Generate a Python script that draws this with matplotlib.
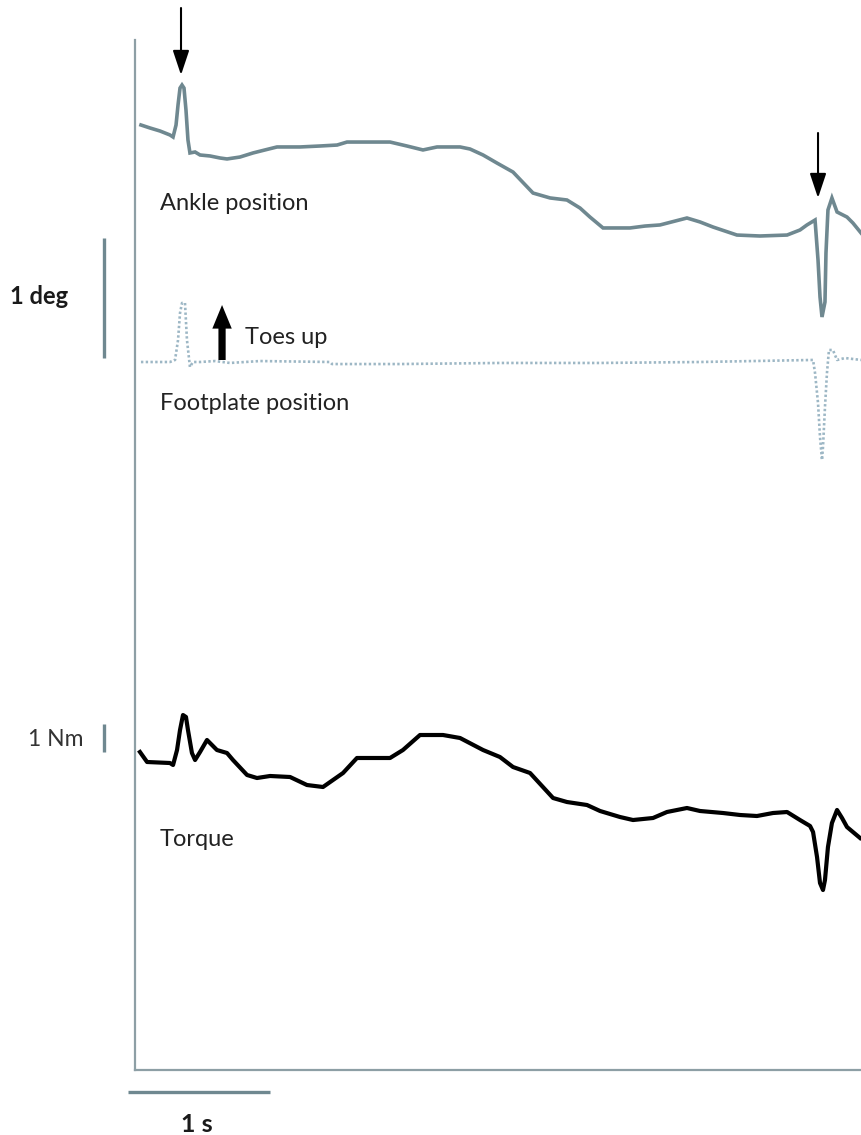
import matplotlib
matplotlib.use("Agg")
import matplotlib.pyplot as plt
import numpy as np

plt.rcParams["font.family"] = ["Lato", "DejaVu Sans"]

# ---- recorded traces (time in s) ----
ankle_t = [0.042, 0.106, 0.176, 0.246, 0.268, 0.289, 0.303, 0.317, 0.331, 0.345,
           0.359, 0.373, 0.387, 0.423, 0.458, 0.528, 0.599, 0.648, 0.739, 0.831,
           0.915, 1.0, 1.162, 1.303, 1.423, 1.493, 1.655, 1.796, 1.915, 2.028,
           2.127, 2.289, 2.359, 2.451, 2.549, 2.662, 2.803, 2.923, 3.042, 3.134,
           3.204, 3.296, 3.486, 3.592, 3.697, 3.887, 3.979, 4.070, 4.239, 4.401,
           4.592, 4.683, 4.732, 4.789, 4.810, 4.824, 4.838, 4.859, 4.866, 4.880,
           4.908, 4.944, 5.014, 5.056, 5.113]
ankle_deg = [0.0, -0.025, -0.05, -0.083, -0.1, 0.0, 0.167, 0.308, 0.333, 0.308,
             0.125, -0.125, -0.233, -0.225, -0.25, -0.258, -0.275, -0.283, -0.267, -0.233,
             -0.208, -0.183, -0.183, -0.175, -0.167, -0.142, -0.142, -0.142, -0.175, -0.208,
             -0.183, -0.183, -0.2, -0.25, -0.317, -0.392, -0.567, -0.608, -0.625, -0.692,
             -0.767, -0.858, -0.858, -0.842, -0.833, -0.775, -0.808, -0.85, -0.917, -0.925,
             -0.917, -0.875, -0.833, -0.792, -1.125, -1.433, -1.6, -1.475, -1.067, -0.708,
             -0.608, -0.725, -0.767, -0.817, -0.9]

foot_t = [0.042, 0.246, 0.282, 0.303, 0.317, 0.331, 0.352, 0.366, 0.387, 0.408,
          0.458, 0.563, 0.669, 0.880, 1.373, 1.387, 1.866, 2.570, 3.275, 3.979,
          4.775, 4.789, 4.810, 4.824, 4.838, 4.845, 4.859, 4.873, 4.887, 4.915,
          4.944, 5.000, 5.113]
foot_deg = [0.0, 0.0, 0.017, 0.183, 0.408, 0.492, 0.492, 0.183, -0.042, 0.0,
            0.0, 0.008, -0.008, 0.008, 0.0, -0.017, -0.017, -0.008, -0.008, 0.0,
            0.017, -0.092, -0.342, -0.625, -0.817, -0.708, -0.375, -0.092, 0.1, 0.1,
            0.017, 0.033, 0.017]

torque_t = [0.035, 0.085, 0.246, 0.268, 0.296, 0.317, 0.338, 0.359, 0.373, 0.401,
            0.423, 0.458, 0.507, 0.577, 0.648, 0.690, 0.789, 0.859, 0.951, 1.092,
            1.211, 1.324, 1.465, 1.563, 1.796, 1.887, 2.007, 2.169, 2.289, 2.451,
            2.570, 2.662, 2.782, 2.944, 3.042, 3.183, 3.275, 3.415, 3.507, 3.648,
            3.746, 3.887, 3.979, 4.141, 4.261, 4.380, 4.493, 4.592, 4.683, 4.754,
            4.775, 4.803, 4.824, 4.845, 4.859, 4.880, 4.908, 4.944, 4.979, 5.014,
            5.106]
torque_nm = [0.0, -0.357, -0.393, -0.464, 0.071, 0.786, 1.321, 1.25, 0.786, -0.036,
             -0.286, 0.0, 0.429, 0.071, -0.036, -0.286, -0.821, -0.929, -0.857, -0.893,
             -1.179, -1.25, -0.75, -0.214, -0.214, 0.071, 0.607, 0.607, 0.5, 0.071,
             -0.179, -0.536, -0.75, -1.643, -1.786, -1.893, -2.107, -2.321, -2.429, -2.357,
             -2.143, -2.0, -2.107, -2.179, -2.25, -2.286, -2.179, -2.143, -2.429, -2.643,
             -2.857, -3.75, -4.679, -4.929, -4.571, -3.393, -2.536, -2.071, -2.357, -2.679,
             -3.071]

# perturbation onsets marked by arrows (s)
onset_t = [0.324, 4.810]

# ---- display scaling: vertical units per deg / per Nm, trace offsets ----
DEG = 120.0
NM = 28.0
ANKLE_OFF = 945.0
FOOT_OFF = 708.0
TORQUE_OFF = 318.0

GREY = "#6f8890"
SPINE = "#8d9fa5"
DOTS = "#9db7c5"

fig = plt.figure(figsize=(8.61, 11.35), dpi=100)
ax = fig.add_axes([135 / 861, 65 / 1135, 726 / 861, 1070 / 1135])
ax.set_xlim(0, 726 / 142)
ax.set_ylim(0, 1070)
for s in ("top", "right"):
    ax.spines[s].set_visible(False)
for s in ("left", "bottom"):
    ax.spines[s].set_color(SPINE)
    ax.spines[s].set_linewidth(1.6)
ax.spines["left"].set_bounds(0, 1030)
ax.set_xticks([])
ax.set_yticks([])

ax.plot(ankle_t, ANKLE_OFF + np.array(ankle_deg) * DEG, color=GREY, lw=2.6,
        solid_joinstyle="miter", clip_on=False)
ax.plot(foot_t, FOOT_OFF + np.array(foot_deg) * DEG, color=DOTS, lw=1.9,
        linestyle=(0, (0.9, 0.9)), clip_on=False)
ax.plot(torque_t, TORQUE_OFF + np.array(torque_nm) * NM, color="black", lw=3.0,
        clip_on=False)

# onset arrows
arrow_tops = [1062, 937]
arrow_tips = [995, 872]
for t, y0, y1 in zip(onset_t, arrow_tops, arrow_tips):
    ax.annotate("", xy=(t, y1), xytext=(t, y0), annotation_clip=False,
                arrowprops=dict(arrowstyle="-|>,head_length=0.75,head_width=0.25",
                                mutation_scale=20, color="black", lw=1.5,
                                shrinkA=0, shrinkB=0))

# direction of footplate rotation
ax.annotate("", xy=(0.613, 765), xytext=(0.613, 710), annotation_clip=False,
            arrowprops=dict(arrowstyle="simple,head_length=0.85,head_width=0.7,tail_width=0.26",
                            mutation_scale=20, color="black", lw=0,
                            shrinkA=0, shrinkB=0))

# trace labels
fs = 17
ax.text(0.176, 866, "Ankle position", fontsize=fs, color="#222222", va="center")
ax.text(0.775, 732, "Toes up", fontsize=fs, color="#222222", va="center")
ax.text(0.176, 666, "Footplate position", fontsize=fs, color="#222222", va="center")
ax.text(0.176, 230, "Torque", fontsize=fs, color="#222222", va="center")

# scale bars
bar_x = -0.218
ax.plot([bar_x, bar_x], [712, 712 + 1 * DEG], color=GREY, lw=2.4, clip_on=False,
        solid_capstyle="butt")
ax.plot([bar_x, bar_x], [318, 318 + 1 * NM], color=GREY, lw=2.4, clip_on=False,
        solid_capstyle="butt")
ax.plot([-0.049, -0.049 + 1.0], [-22, -22], color=GREY, lw=2.4, clip_on=False,
        solid_capstyle="butt")
ax.text(-0.676, 773, "1 deg", fontsize=fs, fontweight="bold", color="#1a1a1a",
        ha="center", va="center")
ax.text(-0.556, 330, "1 Nm", fontsize=fs - 0.5, color="#333333", ha="center", va="center")
ax.text(0.437, -55, "1 s", fontsize=fs + 1, fontweight="bold", color="#1a1a1a",
        ha="center", va="center")

fig.savefig("out.png", dpi=100)
